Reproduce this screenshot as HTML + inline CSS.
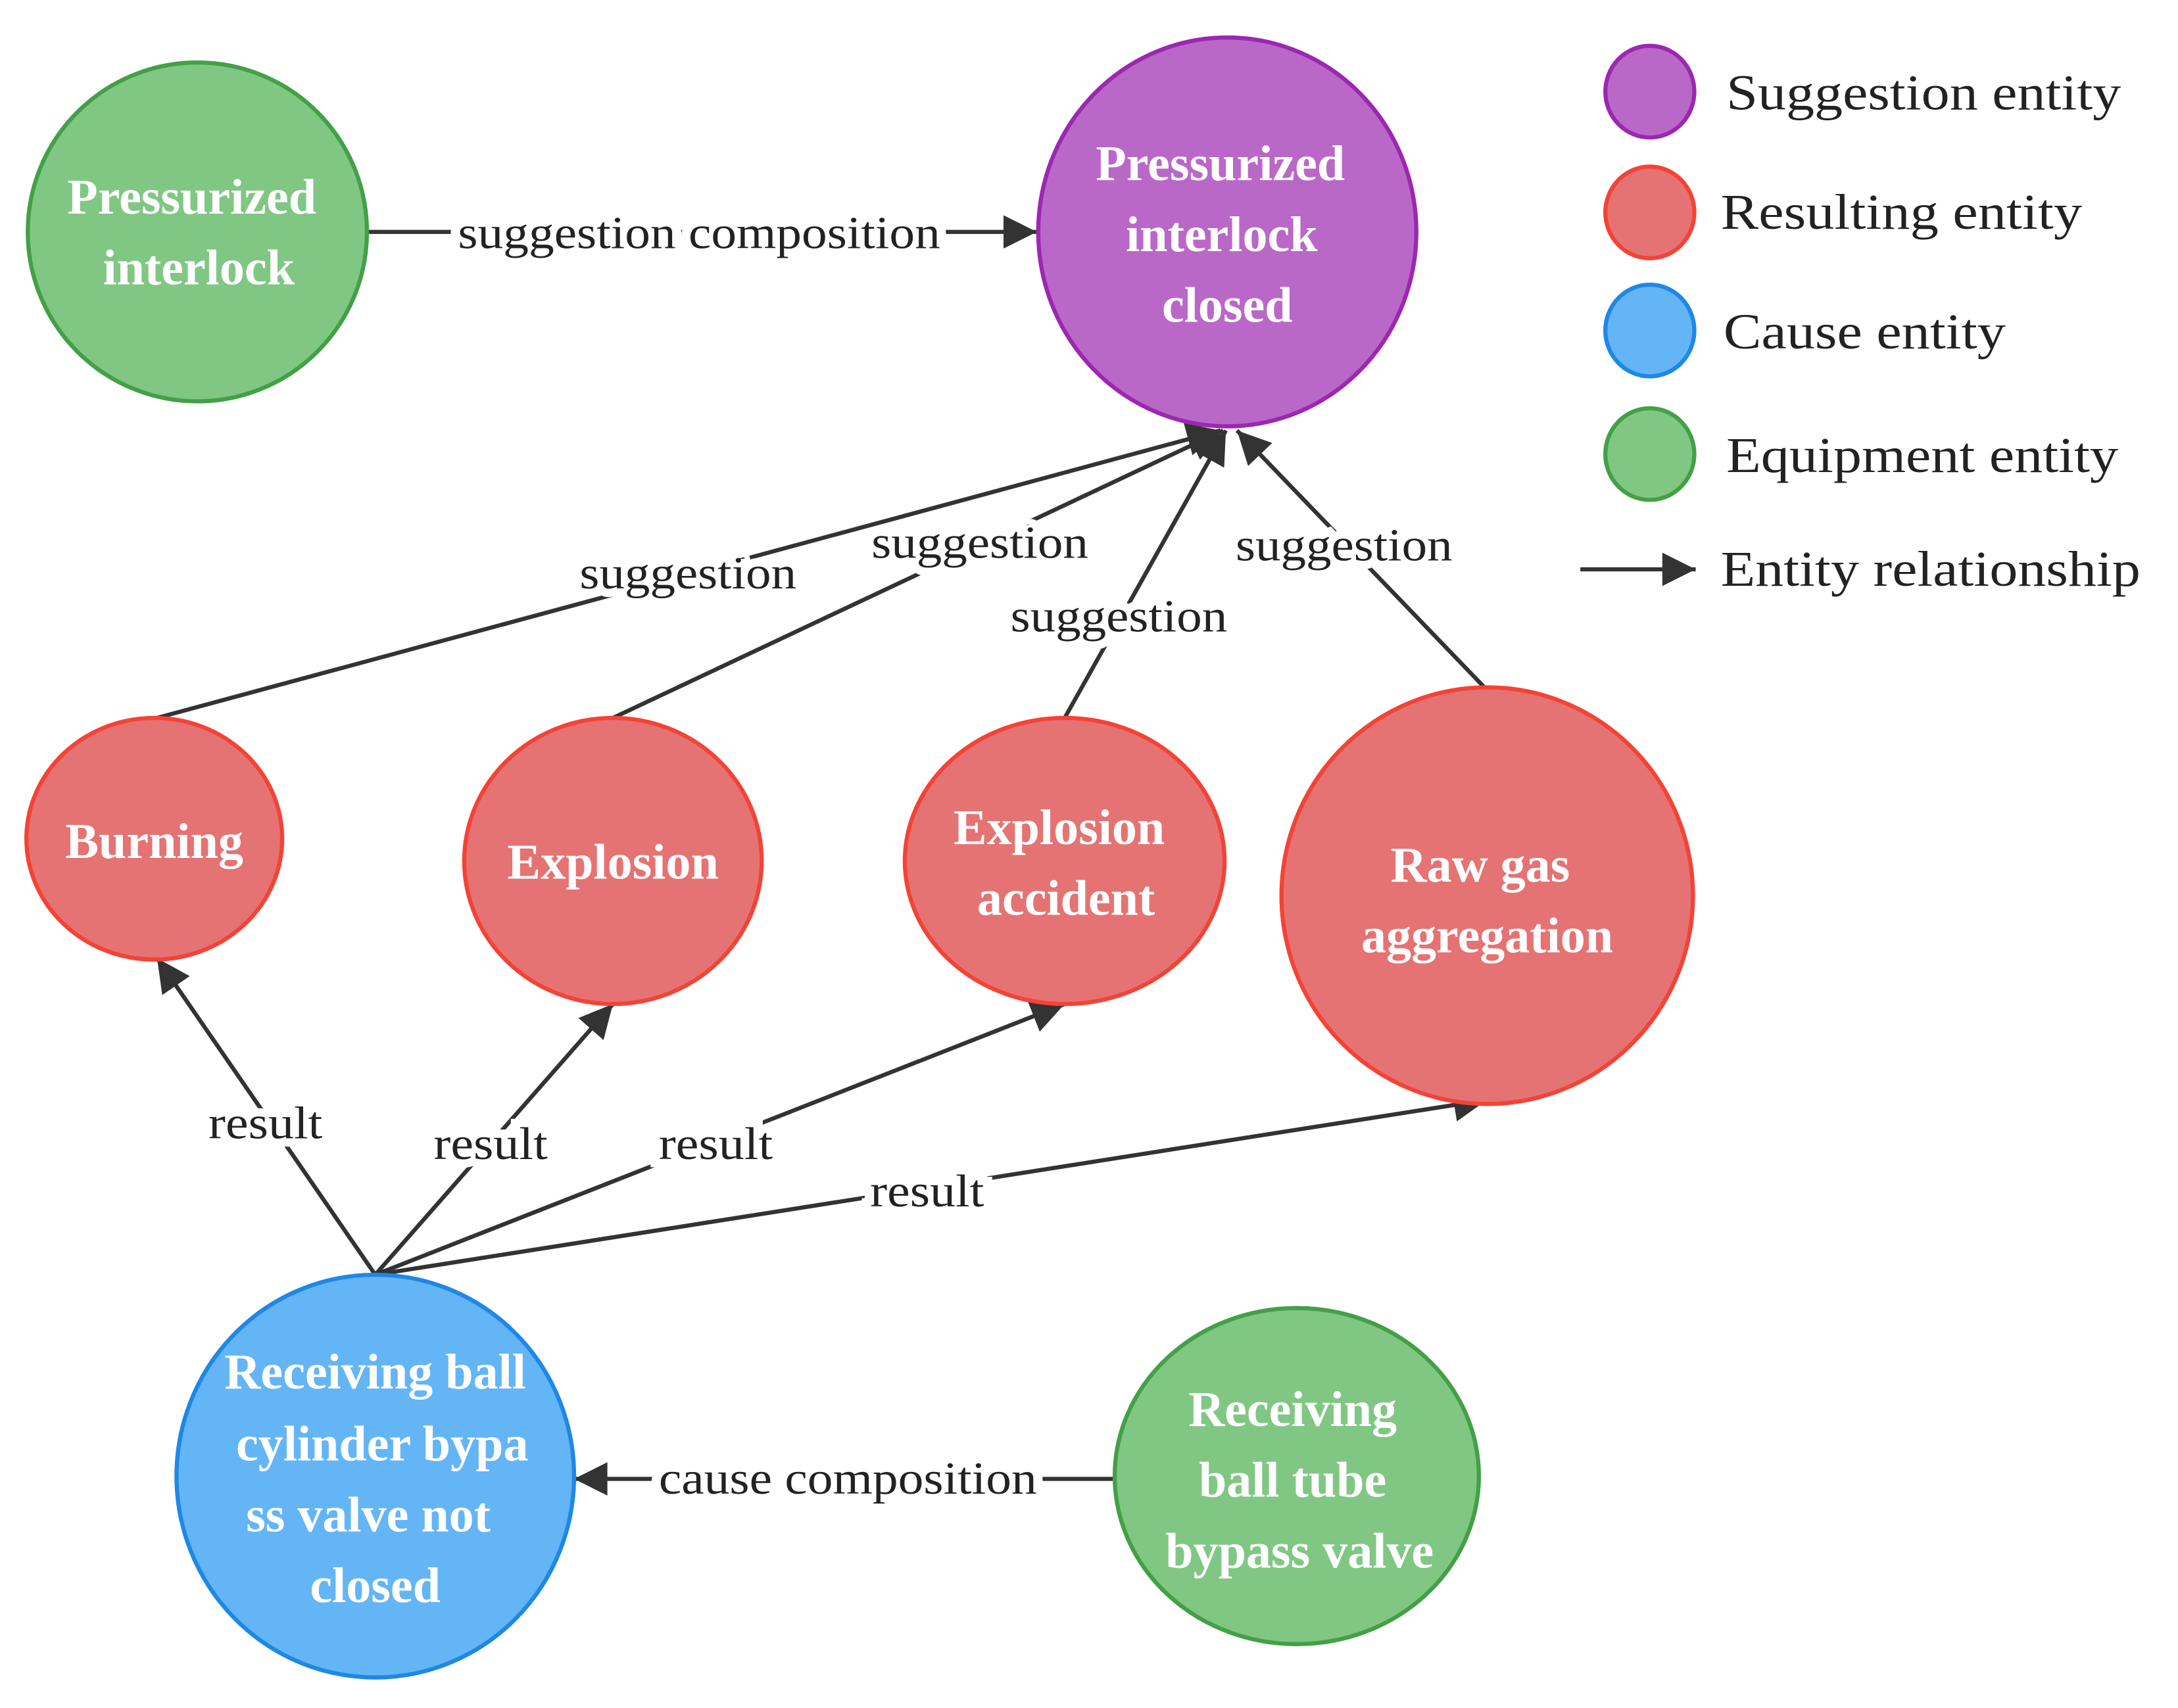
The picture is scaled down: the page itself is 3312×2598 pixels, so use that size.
<!DOCTYPE html>
<html><head><style>html,body{margin:0;padding:0;background:#fff}svg{display:block}</style></head>
<body>
<svg width="3312" height="2598" viewBox="0 0 1567 1230" preserveAspectRatio="none" xmlns="http://www.w3.org/2000/svg" font-family="'Liberation Serif', serif">
<defs>
<marker id="b" viewBox="0 0 10 10" refX="10" refY="5" markerWidth="28" markerHeight="24" markerUnits="userSpaceOnUse" orient="auto"><path d="M0,0L10,5L0,10z" fill="#333"/></marker>
</defs>
<g stroke="#333" stroke-width="3" fill="none" marker-end="url(#b)">
<line x1="265" y1="167" x2="746" y2="167"/>
<line x1="113" y1="517" x2="878" y2="310"/>
<line x1="441" y1="517" x2="880" y2="310"/>
<line x1="766" y1="517" x2="882" y2="310"/>
<line x1="1068" y1="495" x2="890" y2="310"/>
<line x1="270" y1="918" x2="113" y2="690"/>
<line x1="270" y1="918" x2="441" y2="723"/>
<line x1="270" y1="918" x2="766" y2="723"/>
<line x1="270" y1="918" x2="1070" y2="792"/>
<line x1="802" y1="1065" x2="413" y2="1065"/>
<line x1="1137" y1="410" x2="1220" y2="410"/>
</g>
<g font-size="33" fill="#222" text-anchor="middle" stroke="#fff" stroke-width="12" paint-order="stroke" dominant-baseline="central" lengthAdjust="spacingAndGlyphs">
<text x="503" y="168" textLength="347" lengthAdjust="spacingAndGlyphs">suggestion composition</text>
<text x="495" y="413" textLength="156" lengthAdjust="spacingAndGlyphs">suggestion</text>
<text x="705" y="391" textLength="156" lengthAdjust="spacingAndGlyphs">suggestion</text>
<text x="805" y="444" textLength="156" lengthAdjust="spacingAndGlyphs">suggestion</text>
<text x="967" y="393" textLength="156" lengthAdjust="spacingAndGlyphs">suggestion</text>
<text x="191" y="809" textLength="82" lengthAdjust="spacingAndGlyphs">result</text>
<text x="353" y="824" textLength="82" lengthAdjust="spacingAndGlyphs">result</text>
<text x="515" y="824" textLength="82" lengthAdjust="spacingAndGlyphs">result</text>
<text x="667" y="858" textLength="82" lengthAdjust="spacingAndGlyphs">result</text>
<text x="610" y="1065" textLength="272" lengthAdjust="spacingAndGlyphs">cause composition</text>
</g>
<g stroke-width="3">
<ellipse cx="142" cy="167" rx="122" ry="122" fill="#81c784" stroke="#43a047"/>
<ellipse cx="883" cy="167" rx="136" ry="140" fill="#ba68c8" stroke="#9c27b0"/>
<ellipse cx="111" cy="604" rx="92" ry="87" fill="#e57373" stroke="#f44336"/>
<ellipse cx="441" cy="620" rx="107" ry="103" fill="#e57373" stroke="#f44336"/>
<ellipse cx="766" cy="620" rx="115" ry="103" fill="#e57373" stroke="#f44336"/>
<ellipse cx="1070" cy="645" rx="148" ry="150" fill="#e57373" stroke="#f44336"/>
<ellipse cx="270" cy="1063" rx="143" ry="145" fill="#64b5f6" stroke="#1e88e5"/>
<ellipse cx="933" cy="1063" rx="131" ry="121" fill="#81c784" stroke="#43a047"/>
<ellipse cx="1187" cy="66" rx="32" ry="33" fill="#ba68c8" stroke="#9c27b0"/>
<ellipse cx="1187" cy="153" rx="32" ry="33" fill="#e57373" stroke="#f44336"/>
<ellipse cx="1187" cy="238" rx="32" ry="33" fill="#64b5f6" stroke="#1e88e5"/>
<ellipse cx="1187" cy="327" rx="32" ry="33" fill="#81c784" stroke="#43a047"/>
</g>
<g font-size="36" font-weight="bold" fill="#fff" text-anchor="middle" dominant-baseline="central">
<text x="138" y="142">Pressurized</text><text x="143" y="193">interlock</text>
<text x="878" y="118">Pressurized</text><text x="879" y="169">interlock</text><text x="883" y="220">closed</text>
<text x="111" y="606">Burning</text>
<text x="441" y="621">Explosion</text>
<text x="762" y="596">Explosion</text><text x="767" y="647">accident</text>
<text x="1065" y="623">Raw gas</text><text x="1070" y="674">aggregation</text>
<text x="270" y="988">Receiving ball</text><text x="275" y="1040">cylinder bypa</text><text x="265" y="1091">ss valve not</text><text x="270" y="1142">closed</text>
<text x="930" y="1015">Receiving</text><text x="930" y="1066">ball tube</text><text x="935" y="1117">bypass valve</text>
</g>
<g font-size="36" fill="#222" dominant-baseline="central">
<text x="1242" y="67" textLength="284" lengthAdjust="spacingAndGlyphs">Suggestion entity</text>
<text x="1238" y="153" textLength="260" lengthAdjust="spacingAndGlyphs">Resulting entity</text>
<text x="1240" y="239" textLength="203" lengthAdjust="spacingAndGlyphs">Cause entity</text>
<text x="1242" y="328" textLength="282" lengthAdjust="spacingAndGlyphs">Equipment entity</text>
<text x="1238" y="410" textLength="302" lengthAdjust="spacingAndGlyphs">Entity relationship</text>
</g>
</svg>
</body></html>
